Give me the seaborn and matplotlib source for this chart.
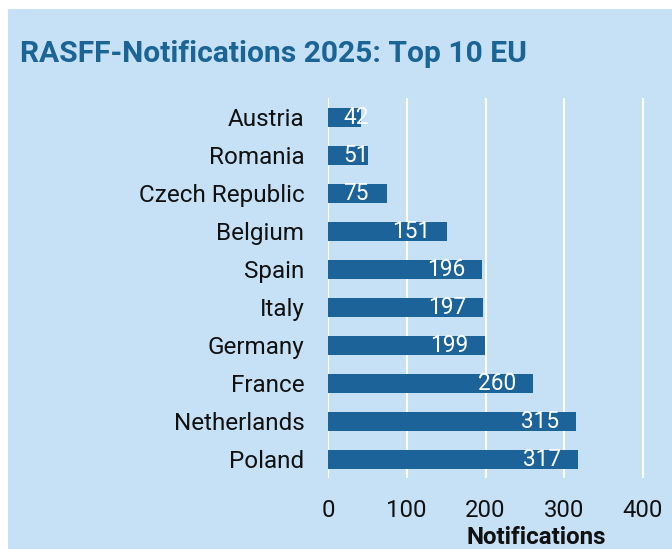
import matplotlib
matplotlib.use("Agg")
import matplotlib.pyplot as plt
import seaborn as sns
import pandas as pd
from matplotlib.patches import Rectangle

countries = ["Austria", "Romania", "Czech Republic", "Belgium", "Spain", "Italy",
             "Germany", "France", "Netherlands", "Poland"]
notifications = [42, 51, 75, 151, 196, 197, 199, 260, 315, 317]
xticks = [0, 100, 200, 300, 400]

df = pd.DataFrame({"Country": countries, "Notifications": notifications})

sns.set_theme(style="white")
plt.rcParams["font.family"] = ["Roboto", "DejaVu Sans"]

BG = "#c6e1f5"
BAR = "#1c6399"
TITLE = "#1a6496"

W, H = 672, 549
fig = plt.figure(figsize=(W / 100, H / 100), dpi=100, facecolor="white")
bg = Rectangle((8 / W, 0), 1 - 8 / W, 1 - 9 / H, transform=fig.transFigure,
               facecolor=BG, edgecolor="none", zorder=-10)
fig.add_artist(bg)

ax_left, ax_right = 328 / W, 1.0
ax_top, ax_bottom = 1 - 98 / H, 1 - 478 / H
ax = fig.add_axes([ax_left, ax_bottom, ax_right - ax_left, ax_top - ax_bottom])
ax.set_facecolor(BG)

sns.barplot(data=df, x="Notifications", y="Country", orient="h", color=BAR,
            width=0.5, saturation=1, ax=ax, zorder=3, edgecolor="none", linewidth=0)

xmax = (W - 328) / 0.7875
ax.set_xlim(0, xmax)
ax.set_ylim(9.5, -0.5)
ax.set_xticks(xticks)
ax.set_xticklabels([str(t) for t in xticks])
ax.grid(axis="x", color="white", linewidth=1.5, zorder=1)
ax.set_axisbelow(True)
for s in ax.spines.values():
    s.set_visible(False)
ax.tick_params(axis="y", length=0, pad=17, labelsize=17.5, labelcolor="#111111")
ax.tick_params(axis="x", length=0, pad=15, labelsize=17.2, labelcolor="#111111")
ax.set_ylabel("")
ax.set_xlabel("Notifications", fontsize=17.4, fontweight="bold", color="#111111")
ax.xaxis.set_label_coords((536 - 328) / (W - 328), -0.125)

for i, v in enumerate(notifications):
    if v < 80:
        ax.annotate(str(v), (0, i), xytext=(11, 0), textcoords="offset points",
                    ha="left", va="center", color="white", fontsize=16.3, zorder=5)
    else:
        ax.annotate(str(v), (v, i), xytext=(-12, 0), textcoords="offset points",
                    ha="right", va="center", color="white", fontsize=16.3, zorder=5)

fig.text(20 / W, 1 - 62 / H, "RASFF-Notifications 2025: Top 10 EU", fontsize=21.6,
         fontweight="bold", color=TITLE, ha="left", va="baseline")

fig.savefig("out.png", dpi=100, facecolor="white")
